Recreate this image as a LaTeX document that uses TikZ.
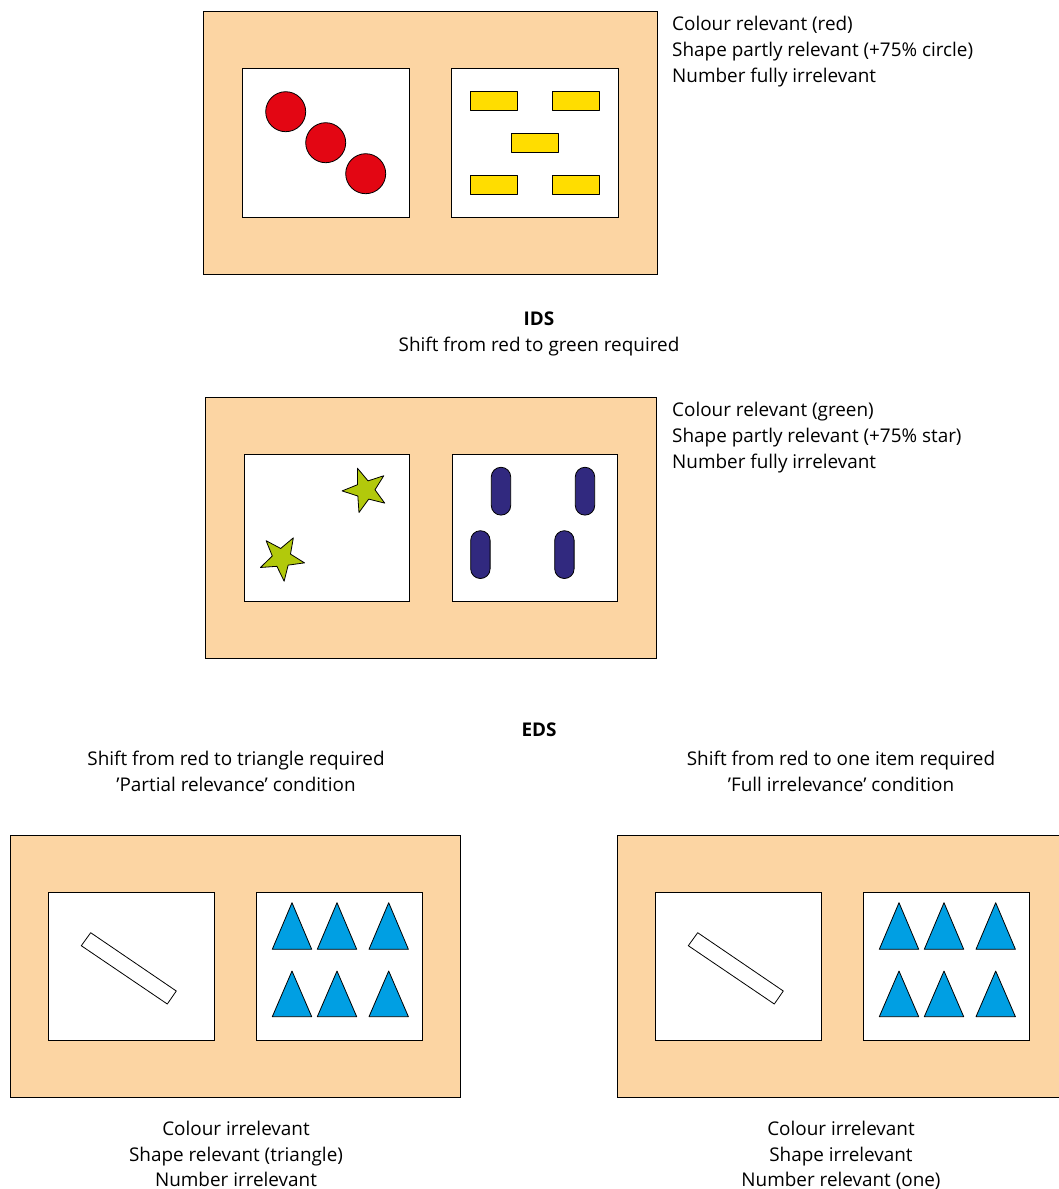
\documentclass[tikz,border=0pt]{standalone}
\usepackage{fontspec}
\setmainfont{Open Sans}
\usetikzlibrary{calc}
\definecolor{peach}{HTML}{FCD5A3}
\definecolor{cred}{HTML}{E30613}
\definecolor{cyellow}{HTML}{FFDD00}
\definecolor{cgreen}{HTML}{B2C90B}
\definecolor{cnavy}{HTML}{31297F}
\definecolor{cblue}{HTML}{009FE3}
\begin{document}
\begin{tikzpicture}[x=1pt,y=-1pt,
  outer/.style={draw=black,fill=peach,line width=0.9pt},
  inner/.style={draw=black,fill=white,line width=0.9pt},
  shp/.style={draw=black,line width=0.8pt,line join=round},
  lbl/.style={font=\fontsize{18.9}{26}\selectfont,anchor=base west,inner sep=0pt},
  clbl/.style={font=\fontsize{18.9}{26}\selectfont,anchor=base,inner sep=0pt}]
\useasboundingbox (0,0) rectangle (1059,1189);
\clip (0,0) rectangle (1059,1189);
% ---------- top panel ----------
\draw[outer] (203,11) rectangle (657,274);
\draw[inner] (242,68) rectangle (409,217);
\draw[inner] (451,68) rectangle (618,217);
\foreach \cx/\cy in {285.7/111.7,325.7/142.7,365.7/173.7}
  \draw[shp,fill=cred] (\cx,\cy) circle (20);
\foreach \x/\y in {470/91.3,552/91.3,511/133,470/175.3,552/175.3}
  \draw[shp,fill=cyellow] (\x,\y) rectangle ++(47,19.4);
\node[lbl] (t1a) at (672,30.5) {Colour relevant (red)};
\node[lbl] (t1b) at (672,56.5) {Shape partly relevant (+75\% circle)};
\node[lbl] (t1c) at (672,82.5) {Number fully irrelevant};
\node[clbl] (ids) at (539,325) {\textbf{IDS}};
\node[clbl] (idsa) at (539,351) {Shift from red to green required};
% ---------- middle panel ----------
\draw[outer] (205,397) rectangle (656,658);
\draw[inner] (244,454) rectangle (409,601);
\draw[inner] (452,454) rectangle (617,601);
\foreach \cx/\cy/\a in {365.4/490.1/110,281.7/558/60}
  \draw[shp,fill=cgreen] ($(\cx,\cy)+(\a:23.3pt)$)
    \foreach \k in {1,...,4} { -- ($(\cx,\cy)+(\a+72*\k-36:9.6pt)$) -- ($(\cx,\cy)+(\a+72*\k:23.3pt)$) }
    -- ($(\cx,\cy)+(\a-36:9.6pt)$) -- cycle;
\foreach \x/\y in {491.3/467.3,575.3/467.3,470.7/530.7,554.7/530.7}
  \draw[shp,fill=cnavy,rounded corners=9.6pt] (\x,\y) rectangle ++(19.4,47.8);
\node[lbl] (t2a) at (672,416.5) {Colour relevant (green)};
\node[lbl] (t2b) at (672,442.5) {Shape partly relevant (+75\% star)};
\node[lbl] (t2c) at (672,468.5) {Number fully irrelevant};
\node[clbl] (eds) at (539,736.5) {\textbf{EDS}};
\node[clbl] (sla) at (236,765.5) {Shift from red to triangle required};
\node[clbl] (slb) at (236,791) {'Partial relevance' condition};
\node[clbl] (sra) at (841,765.5) {Shift from red to one item required};
\node[clbl] (srb) at (841,791) {'Full irrelevance' condition};
% ---------- bottom panels ----------
\foreach \o in {0,607}{
  \begin{scope}[xshift=\o]
  \draw[outer] (10,835) rectangle (460,1097);
  \draw[inner] (48,892) rectangle (214,1040);
  \draw[inner] (256,892) rectangle (422,1040);
  \draw[shp,fill=white] (90.7,932.7) -- (176.3,991) -- (167.3,1004) -- (81.3,945.7) -- cycle;
  \foreach \ax in {292,337,388.7}
    \foreach \by/\ay in {949.3/902.7,1016.7/971}
      \draw[shp,fill=cblue] (\ax-19.7,\by) -- (\ax,\ay) -- (\ax+19.7,\by) -- cycle;
  \end{scope}}
\node[clbl] (bla) at (236,1135) {Colour irrelevant};
\node[clbl] (blb) at (236,1161) {Shape relevant (triangle)};
\node[clbl] (blc) at (236,1186) {Number irrelevant};
\node[clbl] (bra) at (841,1135) {Colour irrelevant};
\node[clbl] (brb) at (841,1161) {Shape irrelevant};
\node[clbl] (brc) at (841,1186) {Number relevant (one)};
\end{tikzpicture}
\end{document}
